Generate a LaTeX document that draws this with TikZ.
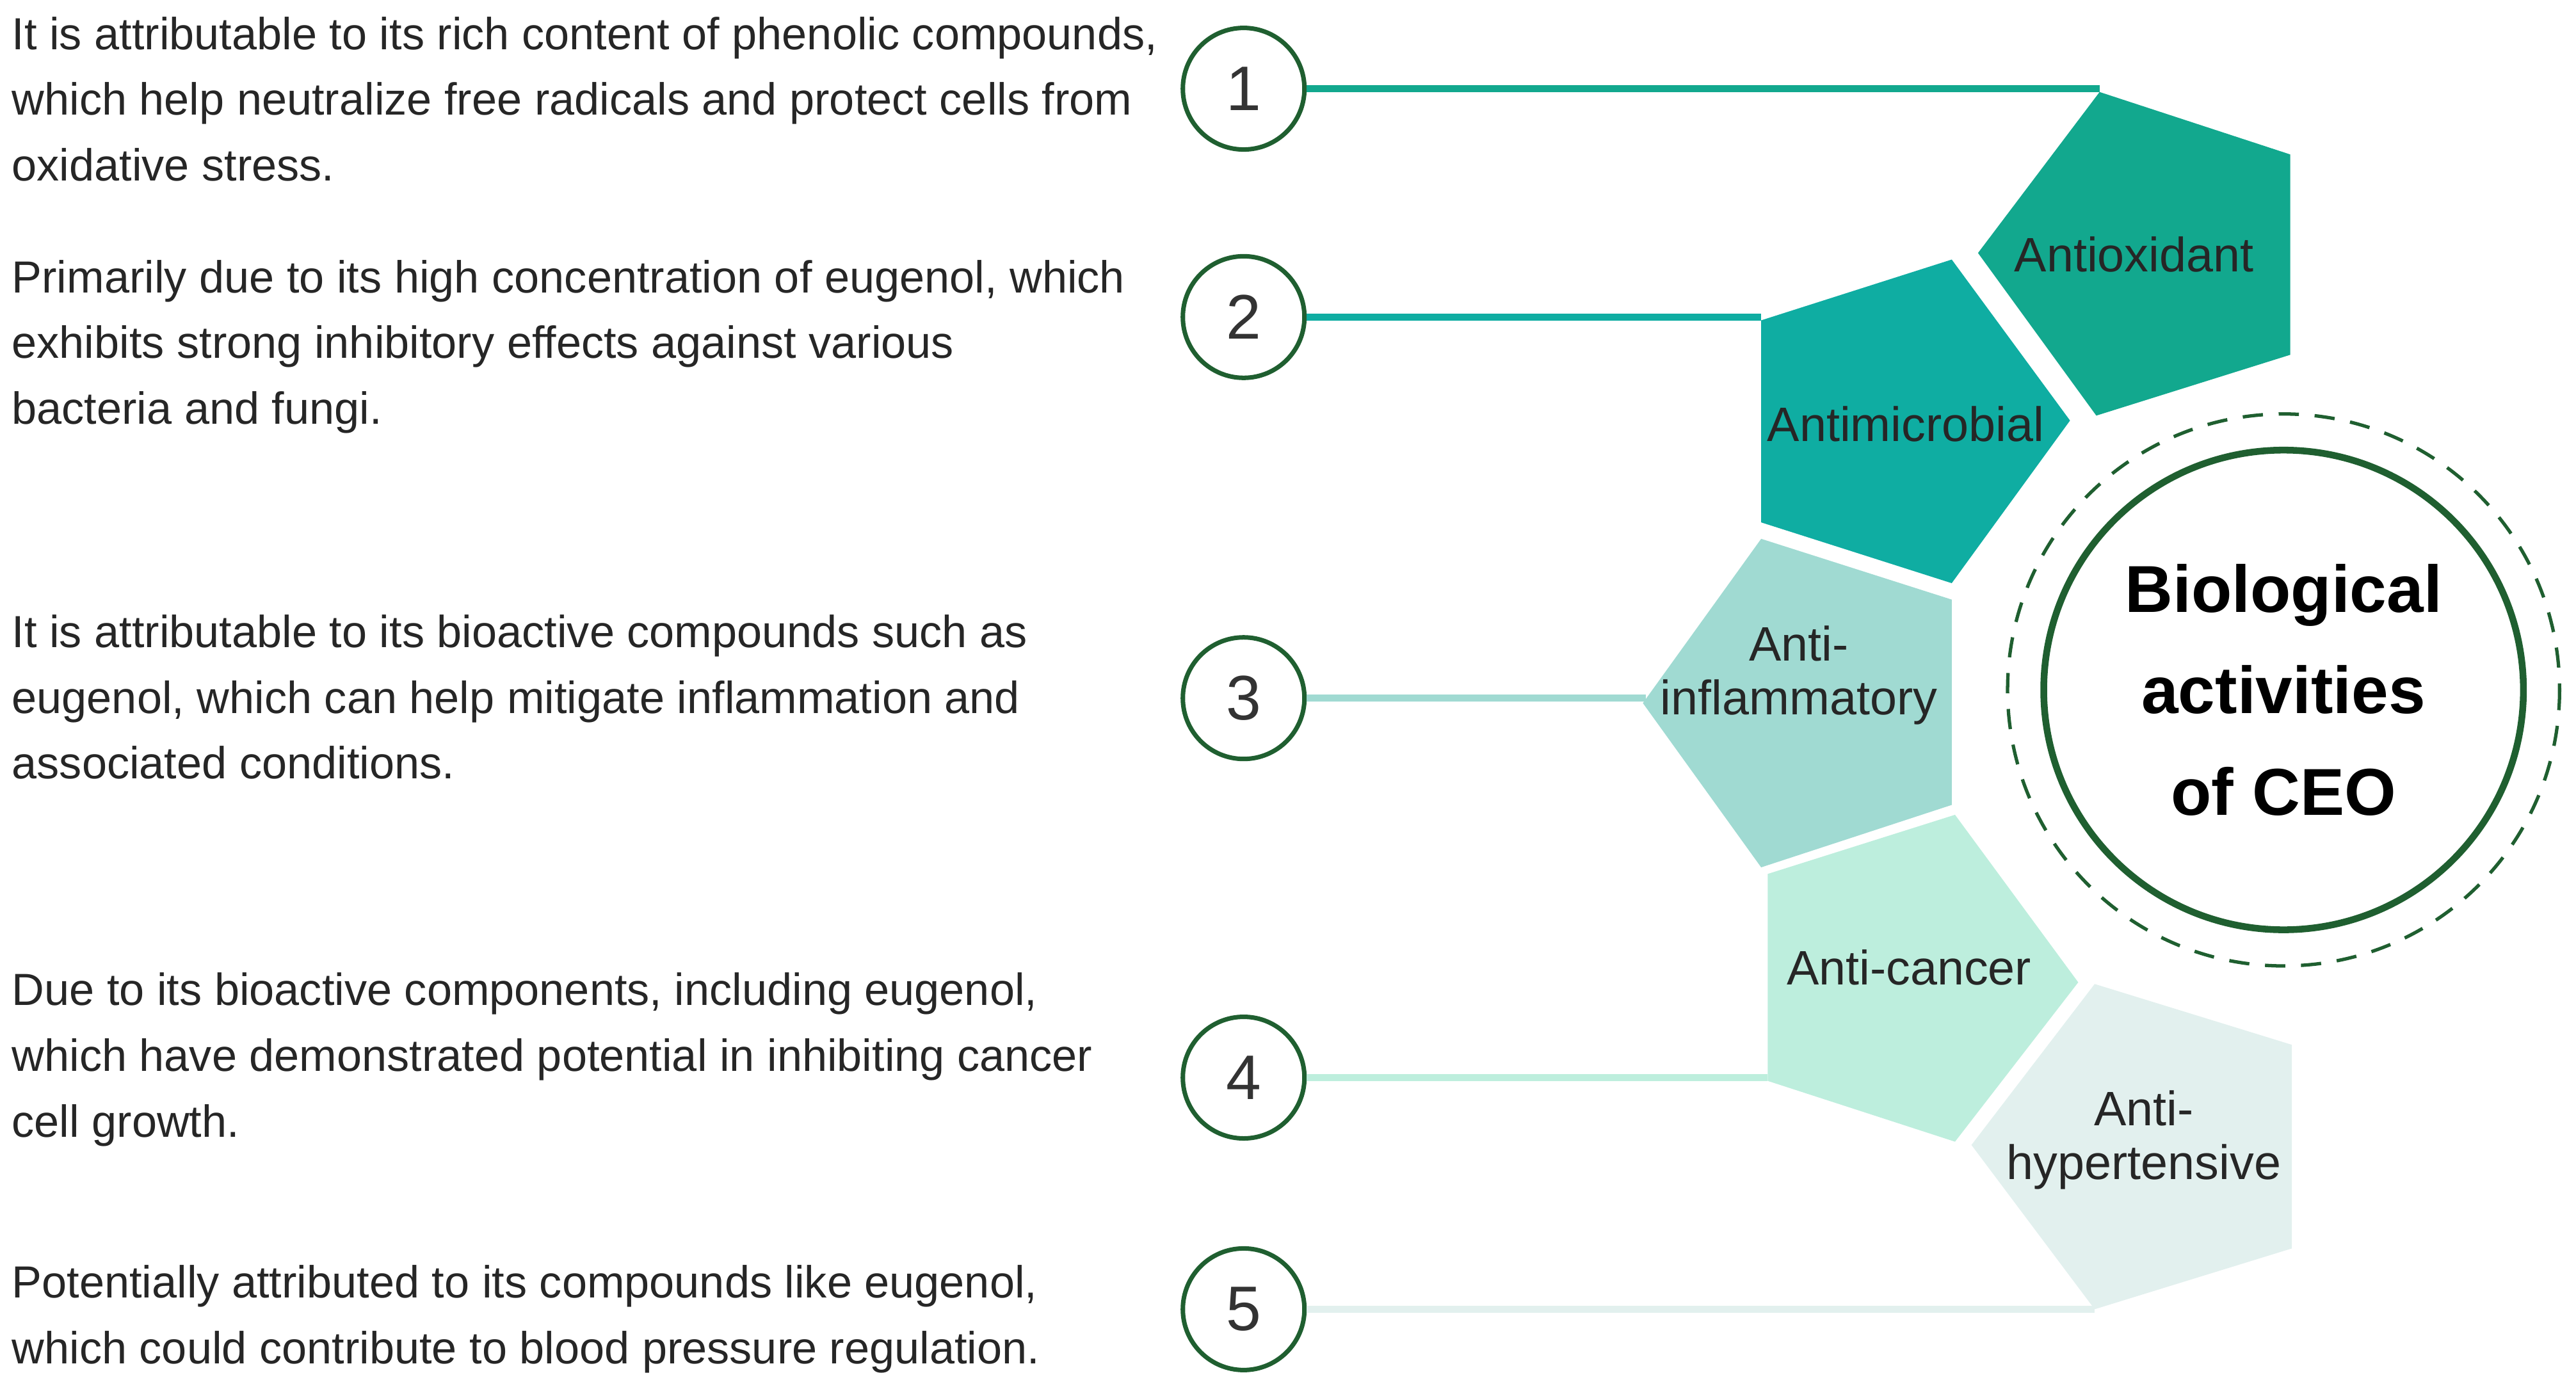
\documentclass[tikz,border=0pt]{standalone}
\usepackage{fontspec}
\setmainfont{Liberation Sans}
\definecolor{dg}{HTML}{1F5F30}
\definecolor{cA}{HTML}{12A88E}
\definecolor{cB}{HTML}{0FADA2}
\definecolor{cC}{HTML}{A0DAD2}
\definecolor{cD}{HTML}{BDEEDD}
\definecolor{cE}{HTML}{E2F0EE}
\tikzset{
 desc/.style={anchor=north west,align=left,inner sep=0pt,font=\fontsize{20}{29.2}\selectfont,text=black!85},
 num/.style={circle,draw=dg,line width=2pt,minimum size=1.9cm,font=\fontsize{28}{30}\selectfont,text=black!80},
 plab/.style={align=center,font=\fontsize{21.5}{24}\selectfont,text=black!85},
 conn/.style={line width=3pt},
}
\begin{document}
\begin{tikzpicture}[x=0.02566cm,y=-0.02566cm]
\useasboundingbox (0,0) rectangle (1568,845.3);
% connectors
\node[num] (n1) at (757,54) {1};
\node[num] (n2) at (757,193) {2};
\node[num] (n3) at (757,425) {3};
\node[num] (n4) at (757,656) {4};
\node[num] (n5) at (757,797) {5};
\coordinate (e1) at (1278,55);
\coordinate (e2) at (1072,193);
\coordinate (e3) at (1002,426);
\coordinate (e4) at (1076,656);
\coordinate (e5) at (1275,797);
\draw[conn,cA] (n1.east) -- (n1.east -| e1);
\draw[conn,cB] (n2.east) -- (n2.east -| e2);
\draw[conn,cC] (n3.east) -- (n3.east -| e3);
\draw[conn,cD] (n4.east) -- (n4.east -| e4);
\draw[conn,cE] (n5.east) -- (n5.east -| e5);
% pentagons
\fill[cA] (1278,56) -- (1394,94) -- (1394,216) -- (1276,253) -- (1204,154) -- cycle;
\fill[cB] (1188,158) -- (1260,256) -- (1188,355) -- (1072,318) -- (1072,195) -- cycle;
\fill[cC] (1072,328) -- (1188,365) -- (1188,490) -- (1072,528) -- (1000,428) -- cycle;
\fill[cD] (1190,496) -- (1265,598) -- (1190,695) -- (1076,658) -- (1076,532) -- cycle;
\fill[cE] (1275,599) -- (1395,636) -- (1395,760) -- (1275,797) -- (1200,697) -- cycle;
\node[plab] (pA) at (1299,155) {Antioxidant};
\node[plab] (pB) at (1160,258) {Antimicrobial};
\node[plab] (pC) at (1095,411) {Anti-\\inflammatory};
\node[plab] (pD) at (1162,589) {Anti-cancer};
\node[plab] (pE) at (1305,694) {Anti-\\hypertensive};
% center circle
\draw[dg,line width=1.5pt,dash pattern=on 9pt off 7pt] (1390,420) circle (168);
\node[circle,draw=dg,line width=3pt,minimum size=146*2*0.02566cm,align=center,
 font=\bfseries\fontsize{29.5}{45}\selectfont] (c) at (1390,420) {Biological\\activities\\of CEO};
% descriptions
\node[desc] (t1) at (7,10) {It is attributable to its rich content of phenolic compounds,\\which help neutralize free radicals and protect cells from\\oxidative stress.};
\node[desc] (t2) at (7,158) {Primarily due to its high concentration of eugenol, which\\exhibits strong inhibitory effects against various\\bacteria and fungi.};
\node[desc] (t3) at (7,374) {It is attributable to its bioactive compounds such as\\eugenol, which can help mitigate inflammation and\\associated conditions.};
\node[desc] (t4) at (7,592) {Due to its bioactive components, including eugenol,\\which have demonstrated potential in inhibiting cancer\\cell growth.};
\node[desc] (t5) at (7,770) {Potentially attributed to its compounds like eugenol,\\which could contribute to blood pressure regulation.};
\end{tikzpicture}
\end{document}
